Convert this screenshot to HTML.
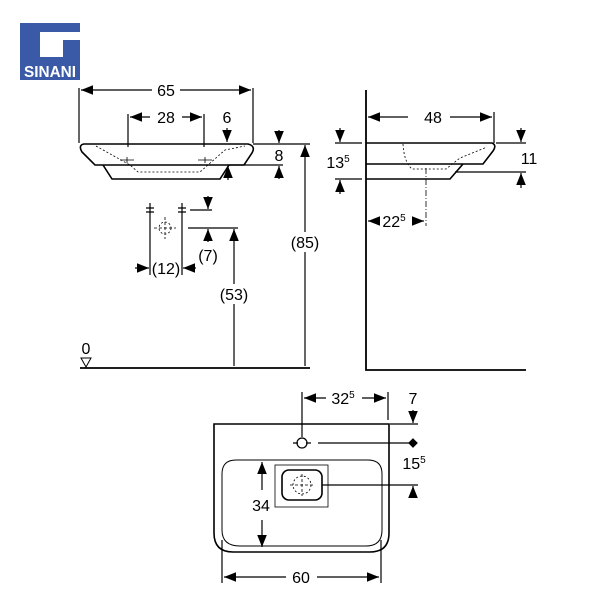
<html><body style="margin:0;background:#fff">
<svg width="600" height="600" viewBox="0 0 600 600" xmlns="http://www.w3.org/2000/svg" font-family="Liberation Sans, sans-serif" font-size="16" fill="none" stroke="#000" stroke-width="1.2">
<defs>
<marker id="a" viewBox="0 0 10 10" refX="10" refY="5" markerWidth="10" markerHeight="10" orient="auto-start-reverse"><path d="M0,1L10,5L0,9z" fill="#000" stroke="none"/></marker>
</defs>
<rect x="20" y="23" width="60" height="57" fill="#3a5aa8" stroke="none"/>
<path d="M40,32H80V40H63V57H40Z" fill="#fff" stroke="none"/>
<text x="50" y="77" fill="#fff" stroke="none" font-family="Liberation Sans Narrow, Liberation Sans, sans-serif" font-weight="bold" font-size="16" text-anchor="middle" textLength="52" lengthAdjust="spacingAndGlyphs">SINANI</text>

<!-- front view -->
<path d="M79,88V143M253,88V143"/>
<line x1="81" y1="90" x2="152" y2="90" marker-start="url(#a)"/>
<line x1="180" y1="90" x2="251" y2="90" marker-end="url(#a)"/>
<text x="166" y="96" fill="#000" stroke="none" text-anchor="middle">65</text>
<path d="M128,114V147M204,114V147"/>
<line x1="130" y1="117" x2="150" y2="117" marker-start="url(#a)"/>
<line x1="182" y1="117" x2="202" y2="117" marker-end="url(#a)"/>
<text x="166" y="123" fill="#000" stroke="none" text-anchor="middle">28</text>
<text x="227" y="123" fill="#000" stroke="none" text-anchor="middle">6</text>
<line x1="227" y1="128" x2="227" y2="142" marker-end="url(#a)"/>
<path d="M84,144H248Q256,146 252,153L244,165H95L82,152Q78,145 84,144Z" stroke-width="1.6"/>
<path d="M103,165L112,179H220L229,165" stroke-width="1.6"/>
<path d="M96,146L130,165L138,172H200L225,150L245,146" stroke-dasharray="2,2" stroke-width="0.8"/>
<path d="M120,160H134M127,157V163M198,160H212M205,157V163" stroke-width="0.8"/>
<path d="M253,144H310M229,165H283"/>
<line x1="279" y1="130" x2="279" y2="143" marker-end="url(#a)"/>
<line x1="279" y1="179" x2="279" y2="166" marker-end="url(#a)"/>
<text x="279" y="161" fill="#000" stroke="none" text-anchor="middle">8</text>
<line x1="228" y1="180" x2="228" y2="166" marker-end="url(#a)"/>
<line x1="305" y1="366" x2="305" y2="145" marker-end="url(#a)"/>
<rect x="287" y="232" width="36" height="20" fill="#fff" stroke="none"/>
<text x="305" y="248" fill="#000" stroke="none" text-anchor="middle">(85)</text>
<path d="M150,203V275M182,203V275M146,208H154M146,212H154M178,208H186M178,212H186"/>
<circle cx="165" cy="228" r="6" stroke-dasharray="2,2" stroke-width="0.8"/>
<path d="M154,228H176M165,217V239" stroke-dasharray="3,2" stroke-width="0.8"/>
<path d="M190,210H212M188,228H238"/>
<line x1="208" y1="196" x2="208" y2="209" marker-end="url(#a)"/>
<line x1="208" y1="242" x2="208" y2="229" marker-end="url(#a)"/>
<text x="208" y="261" fill="#000" stroke="none" text-anchor="middle">(7)</text>
<line x1="135" y1="268" x2="149" y2="268" marker-end="url(#a)"/>
<line x1="196" y1="268" x2="183" y2="268" marker-end="url(#a)"/>
<text x="166" y="274" fill="#000" stroke="none" text-anchor="middle">(12)</text>
<line x1="234" y1="366" x2="234" y2="229" marker-end="url(#a)"/>
<rect x="216" y="284" width="36" height="20" fill="#fff" stroke="none"/>
<text x="234" y="300" fill="#000" stroke="none" text-anchor="middle">(53)</text>
<text x="86" y="354" fill="#000" stroke="none" text-anchor="middle">0</text>
<path d="M81,358H91L86,367Z" stroke-width="1"/>
<path d="M80,368H310" stroke-width="1.8"/>

<!-- side view -->
<path d="M366,90V370H526" stroke-width="1.8"/>
<line x1="368" y1="117" x2="408" y2="117" marker-start="url(#a)"/>
<line x1="450" y1="117" x2="492" y2="117" marker-end="url(#a)"/>
<text x="433" y="123" fill="#000" stroke="none" text-anchor="middle">48</text>
<path d="M494,112V143"/>
<path d="M366,143H492Q497,145 493,151L483,164H366M366,179H450L463,164" stroke-width="1.6"/>
<path d="M403,144Q404,162 412,169H446L460,158L487,147" stroke-dasharray="2,2" stroke-width="0.8"/>
<path d="M335,143H362M335,179H362"/>
<line x1="340" y1="128" x2="340" y2="142" marker-end="url(#a)"/>
<line x1="340" y1="194" x2="340" y2="180" marker-end="url(#a)"/>
<text x="338" y="168" fill="#000" stroke="none" text-anchor="middle">13<tspan font-size="10" dy="-6">5</tspan></text>
<path d="M496,143H526M455,172H526"/>
<line x1="521" y1="128" x2="521" y2="142" marker-end="url(#a)"/>
<line x1="521" y1="188" x2="521" y2="173" marker-end="url(#a)"/>
<text x="529" y="164" fill="#000" stroke="none" text-anchor="middle">11</text>
<path d="M426,168V226" stroke-dasharray="6,2,1,2" stroke-width="0.8"/>
<line x1="378" y1="221" x2="368" y2="221" marker-end="url(#a)"/>
<line x1="413" y1="221" x2="424" y2="221" marker-end="url(#a)"/>
<text x="394" y="227" fill="#000" stroke="none" text-anchor="middle">22<tspan font-size="10" dy="-6">5</tspan></text>

<!-- top view -->
<path d="M214,424H389V533Q389,552 370,552H233Q214,552 214,533Z" stroke-width="1.6"/>
<path d="M236,460H368Q382,460 382,474V530Q382,546 366,546H240Q222,546 222,530V474Q222,460 236,460Z" stroke-width="1"/>
<rect x="275" y="465" width="53" height="42" stroke-width="0.8"/>
<rect x="282" y="470" width="40" height="30" rx="7" stroke-width="1.6"/>
<circle cx="302" cy="485" r="9" stroke-dasharray="2,2" stroke-width="0.8"/>
<path d="M290,485H314M302,474V496" stroke-dasharray="3,2" stroke-width="0.8"/>
<circle cx="302" cy="443" r="5"/>
<path d="M293,443H298M306,443H311M318,443H410"/>
<path d="M413,439L417,443L413,447L409,443Z" fill="#000"/>
<path d="M302,392V437M388,392V420"/>
<line x1="304" y1="398" x2="326" y2="398" marker-start="url(#a)"/>
<line x1="362" y1="398" x2="386" y2="398" marker-end="url(#a)"/>
<text x="343" y="404" fill="#000" stroke="none" text-anchor="middle">32<tspan font-size="10" dy="-6">5</tspan></text>
<text x="413" y="404" fill="#000" stroke="none" text-anchor="middle">7</text>
<path d="M390,424H418"/>
<line x1="413" y1="410" x2="413" y2="423" marker-end="url(#a)"/>
<text x="414" y="469" fill="#000" stroke="none" text-anchor="middle">15<tspan font-size="10" dy="-6">5</tspan></text>
<path d="M322,485H418"/>
<line x1="413" y1="498" x2="413" y2="486" marker-end="url(#a)"/>
<line x1="262" y1="490" x2="262" y2="462" marker-end="url(#a)"/>
<line x1="262" y1="520" x2="262" y2="547" marker-end="url(#a)"/>
<text x="261" y="511" fill="#000" stroke="none" text-anchor="middle">34</text>
<path d="M222,540V583M381,540V583"/>
<line x1="286" y1="577" x2="224" y2="577" marker-end="url(#a)"/>
<line x1="317" y1="577" x2="379" y2="577" marker-end="url(#a)"/>
<text x="301" y="583" fill="#000" stroke="none" text-anchor="middle">60</text>
</svg>
</body></html>
